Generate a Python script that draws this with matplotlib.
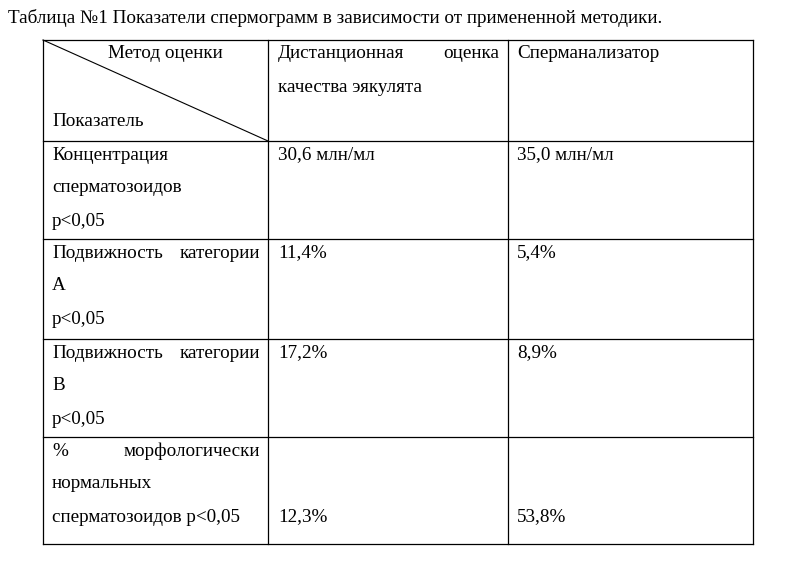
import matplotlib
matplotlib.use("Agg")
import matplotlib.pyplot as plt

plt.rcParams["font.family"] = ["Liberation Serif", "DejaVu Serif"]

title = "Таблица №1 Показатели спермограмм в зависимости от примененной методики."
col_heads = ["Дистанционная оценка качества эякулята", "Сперманализатор"]
row_labels = [
    ["Концентрация", "сперматозоидов", "p<0,05"],
    ["Подвижность категории", "А", "p<0,05"],
    ["Подвижность категории", "В", "p<0,05"],
    ["% морфологически", "нормальных", "сперматозоидов p<0,05"],
]
remote = ["30,6 млн/мл", "11,4%", "17,2%", "12,3%"]
analyzer = ["35,0 млн/мл", "5,4%", "8,9%", "53,8%"]

W, H = 795, 574
fig = plt.figure(figsize=(W / 100, H / 100), dpi=100)
ax = fig.add_axes([0, 0, 1, 1])
ax.set_xlim(0, W)
ax.set_ylim(H, 0)
ax.axis("off")

fs = 13.8
xs = [43, 268, 508, 753]
ys = [40, 141, 239, 339, 437, 544]
lw = 0.9
for x in xs:
    ax.plot([x, x], [ys[0], ys[-1]], color="black", lw=lw)
for y in ys:
    ax.plot([xs[0], xs[-1]], [y, y], color="black", lw=lw)
ax.plot([xs[0], xs[1]], [ys[0], ys[1]], color="black", lw=0.8)

def txt(x, y, s, ha="left"):
    ax.text(x, y, s, fontsize=fs, ha=ha, va="center")

txt(8, 18, title)
# header
txt(108, 54, "Метод оценки")
txt(52, 121, "Показатель")
w1 = col_heads[0].split()
txt(278, 54, w1[0])
txt(499, 54, w1[1], ha="right")
txt(278, 87, " ".join(w1[2:]))
txt(517, 54, col_heads[1])

for i, lines in enumerate(row_labels):
    y0 = ys[i + 1] + 14
    for k, line in enumerate(lines):
        yy = y0 + 33 * k
        parts = line.split()
        if k == 0 and len(parts) == 2 and i > 0:
            txt(52, yy, parts[0])
            txt(260, yy, parts[1], ha="right")
        else:
            txt(52, yy, line)
    vy = y0 if i < 3 else y0 + 66
    txt(278, vy, remote[i])
    txt(517, vy, analyzer[i])

fig.savefig("out.png", dpi=100)
